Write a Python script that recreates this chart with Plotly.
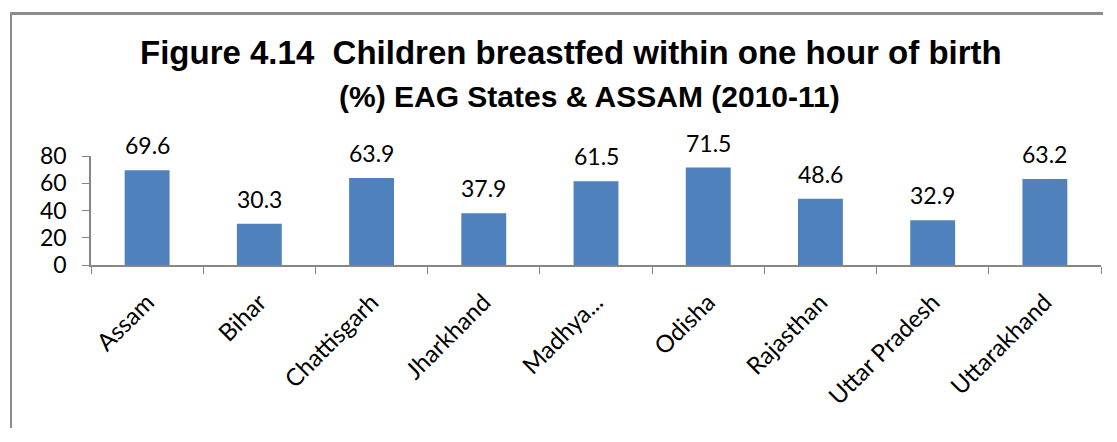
import plotly.graph_objects as go

states = ['Assam', 'Bihar', 'Chattisgarh', 'Jharkhand', 'Madhya...',
          'Odisha', 'Rajasthan', 'Uttar Pradesh', 'Uttarakhand']
pct = [69.6, 30.3, 63.9, 37.9, 61.5, 71.5, 48.6, 32.9, 63.2]
y_ticks = [0, 20, 40, 60, 80]
title_1 = 'Figure 4.14  Children breastfed within one hour of birth'
title_2 = '(%) EAG States & ASSAM (2010-11)'

# page has an 8px body margin, so the figure is sized to fit inside the window
W, H = 1095, 420
L, R, T, B = 83, 2, 148, 163
pw, ph = W - L - R, H - T - B


def px_x(x):
    return (x - L) / pw


def px_y(y):
    return (H - B - y) / ph


fig = go.Figure(go.Bar(
    x=states, y=pct,
    marker=dict(color='#4F81BD', line=dict(width=0)),
    cliponaxis=False,
))

# value labels above the bars
for s, v in zip(states, pct):
    fig.add_annotation(x=s, y=v, text=f'{v:.1f}', showarrow=False,
                       yanchor='bottom', yshift=9,
                       font=dict(family='Lato, Open Sans, sans-serif', size=23, color='black'))

# title, two lines placed separately
fig.add_annotation(xref='paper', yref='paper', x=px_x(563), y=px_y(45),
                   xanchor='center', yanchor='middle', showarrow=False,
                   text=title_1,
                   font=dict(family='Liberation Sans, Arial, sans-serif',
                             size=33, color='black', weight='bold'))
fig.add_annotation(xref='paper', yref='paper', x=px_x(581), y=px_y(88),
                   xanchor='center', yanchor='middle', showarrow=False,
                   text=title_2,
                   font=dict(family='Liberation Sans, Arial, sans-serif',
                             size=30, color='black', weight='bold'))

# chart border (gray frame, partly outside the picture) as thin filled bars
fig.add_shape(type='rect', xref='paper', yref='paper',
              x0=px_x(2), x1=px_x(W), y0=px_y(7), y1=px_y(4),
              fillcolor='#8c8c8c', line=dict(width=0), layer='above')
fig.add_shape(type='rect', xref='paper', yref='paper',
              x0=px_x(2), x1=px_x(4), y0=px_y(H), y1=px_y(4),
              fillcolor='#8c8c8c', line=dict(width=0), layer='above')

fig.update_layout(
    width=W, height=H,
    margin=dict(l=L, r=R, t=T, b=B, autoexpand=False),
    plot_bgcolor='white', paper_bgcolor='white',
    bargap=0.6, showlegend=False,
    font=dict(family='Lato, Open Sans, sans-serif', color='black'),
)
fig.update_yaxes(range=[0, 80], tickvals=y_ticks, showgrid=False, automargin=False,
                 showline=True, linecolor='#868686', linewidth=1.5,
                 ticks='outside', ticklen=7, tickcolor='#868686',
                 ticklabelstandoff=11, tickfont=dict(size=23), zeroline=False)
fig.update_xaxes(showgrid=False, showline=True, automargin=False,
                 linecolor='#868686', linewidth=1.5,
                 ticks='outside', tickson='boundaries', ticklen=7, tickcolor='#868686',
                 ticklabelstandoff=12, tickangle=-45, tickfont=dict(size=24))

fig.write_html('out.html')
